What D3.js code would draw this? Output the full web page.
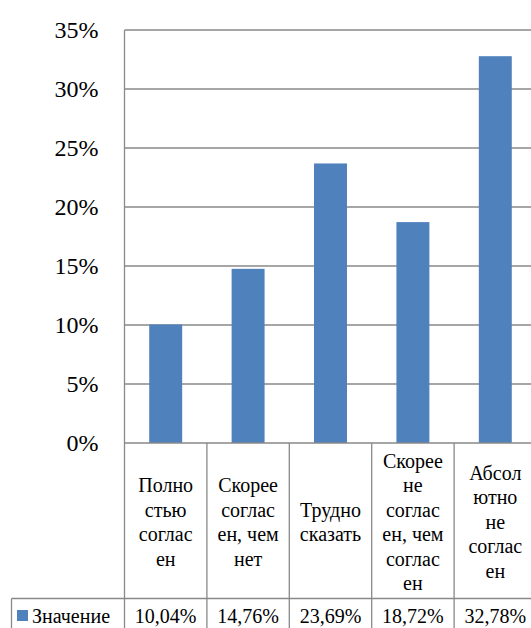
<!DOCTYPE html>
<html><head><meta charset="utf-8">
<script src="https://cdn.jsdelivr.net/npm/d3@7"></script>
<style>html,body{margin:0;padding:0;background:#fff;overflow:hidden}</style>
</head><body><svg id="c" width="531" height="628"></svg>
<script>
const categories = ["Полностью согласен","Скорее согласен, чем нет","Трудно сказать","Скорее не согласен, чем согласен","Абсолютно не согласен"];
const categoryLines = [["Полно","стью","соглас","ен"],["Скорее","соглас","ен, чем","нет"],["Трудно","сказать"],["Скорее","не","соглас","ен, чем","соглас","ен"],["Абсол","ютно","не","соглас","ен"]];
const seriesName = "Значение";
const values = [0.1004, 0.1476, 0.2369, 0.1872, 0.3278];
const valueLabels = ["10,04%","14,76%","23,69%","18,72%","32,78%"];
const yTicks = [0,0.05,0.10,0.15,0.20,0.25,0.30,0.35];

(function(){
const svg = d3.select("#c");
const grid = "#898989", barColor = "#4f81bd";
const FF = "'Liberation Serif', 'Times New Roman', serif";
const serif = sel => sel.style("font-family", FF, "important");
const pLeft = 124.5, pRight = 536.5, pTop = 30, pBottom = 443, tableRow = 598.5, tableBottom = 640, tableLeft = 11.5;

const x = d3.scaleBand().domain(categories).range([pLeft, pRight]).paddingInner(0.6).paddingOuter(0.3);
const y = d3.scaleLinear().domain([0, 0.35]).range([pBottom, pTop]);

svg.append("g").selectAll("line").data(yTicks.filter(d => d > 0)).join("line")
  .attr("x1", pLeft).attr("x2", pRight).attr("y1", d => y(d)).attr("y2", d => y(d))
  .attr("stroke", grid).attr("stroke-width", 1.3);

svg.append("g").selectAll("rect").data(values).join("rect")
  .attr("x", (d, i) => x(categories[i])).attr("width", x.bandwidth())
  .attr("y", d => y(d)).attr("height", d => y(0) - y(d)).attr("fill", barColor);

const yAxis = d3.axisLeft(y).tickValues(yTicks).tickSize(0).tickPadding(26)
  .tickFormat(d => Math.round(d * 100) + "%");
const ga = svg.append("g").attr("transform", `translate(${pLeft},0)`).call(yAxis);
ga.select(".domain").remove();
ga.call(serif).attr("font-size", 24);
ga.selectAll("text").call(serif).attr("font-size", 24).attr("fill", "#000");

const step = x.step();
const bounds = d3.range(categories.length + 1).map(i => pLeft + i * step);
const lines = svg.append("g").attr("stroke", grid).attr("stroke-width", 1.3);
lines.append("line").attr("x1", pLeft).attr("x2", pLeft).attr("y1", pTop).attr("y2", tableBottom);
lines.append("line").attr("x1", pLeft).attr("x2", pRight).attr("y1", pBottom).attr("y2", pBottom);
lines.selectAll(".v").data(bounds.slice(1)).join("line").attr("class", "v")
  .attr("x1", d => d).attr("x2", d => d).attr("y1", pBottom).attr("y2", tableBottom);
lines.append("line").attr("x1", tableLeft).attr("x2", pRight).attr("y1", tableRow).attr("y2", tableRow);
lines.append("line").attr("x1", tableLeft).attr("x2", tableLeft).attr("y1", tableRow).attr("y2", tableBottom);

const lh = 24.5, cellMid = (pBottom + tableRow) / 2 + 1;
const cl = svg.append("g").attr("text-anchor", "middle");
categories.forEach((c, i) => {
  const ls = categoryLines[i];
  const cx = x(c) + x.bandwidth() / 2;
  const t = cl.append("text").attr("x", cx).attr("font-size", 20).call(serif);
  ls.forEach((l, j) => {
    t.append("tspan").attr("x", cx).attr("y", cellMid + (j - (ls.length - 1) / 2) * lh).attr("dy", "0.35em").call(serif).text(l);
  });
});

const rowMid = 616;
const vr = svg.append("g").attr("text-anchor", "middle");
valueLabels.forEach((v, i) => {
  vr.append("text").attr("x", x(categories[i]) + x.bandwidth() / 2).attr("y", rowMid).attr("dy", "0.35em")
    .attr("font-size", 20).call(serif).text(v);
});
svg.append("rect").attr("x", 17).attr("y", 610).attr("width", 11).attr("height", 11).attr("fill", barColor);
svg.append("text").attr("x", 32).attr("y", rowMid).attr("dy", "0.35em").attr("font-size", 20).call(serif).text(seriesName);
})();
</script></body></html>
